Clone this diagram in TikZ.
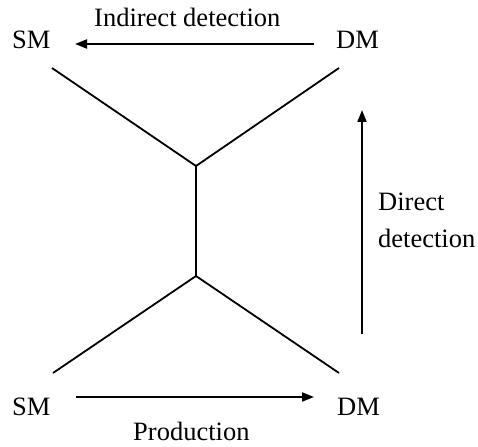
\documentclass[tikz,border=0pt]{standalone}
\usepackage{fontspec}
\setmainfont{Liberation Serif}
\usetikzlibrary{arrows.meta}
\begin{document}
\begin{tikzpicture}[x=1pt,y=-1pt,
  lbl/.style={anchor=base west,inner sep=0pt,font=\fontsize{26.5}{30}\selectfont},
  leg/.style={line width=1.8pt},
  arr/.style={line width=1.8pt,-{Triangle[length=12pt,width=9pt]}}]
\useasboundingbox (0,0) rectangle (478,446);
\node[lbl] (smt) at (12,49) {SM};
\node[lbl] (dmt) at (336,49) {DM};
\node[lbl] (ind) at (94,27) {Indirect detection};
\node[lbl] (smb) at (12,415) {SM};
\node[lbl] (dmb) at (337,415) {DM};
\node[lbl] (prod) at (133,440) {Production};
\node[lbl] (dir) at (378,210) {Direct};
\node[lbl] (det) at (378,247) {detection};
\coordinate (jt) at (196,166);
\coordinate (jb) at (196,276);
\coordinate (tl) at (52,68);
\coordinate (tr) at (339,68);
\coordinate (bl) at (53,373);
\coordinate (br) at (339,373);
\draw[leg] (tl) -- (jt) -- (tr);
\draw[leg] (jt) -- (jb);
\draw[leg] (bl) -- (jb) -- (br);
\coordinate (a1s) at (314,44);
\coordinate (a1e) at (75,44);
\coordinate (a2s) at (76,397);
\coordinate (a2e) at (314,397);
\coordinate (a3s) at (362,334);
\coordinate (a3e) at (362,110);
\draw[arr] (a1s) -- (a1e);
\draw[arr] (a2s) -- (a2e);
\draw[arr] (a3s) -- (a3e);
\end{tikzpicture}
\end{document}
